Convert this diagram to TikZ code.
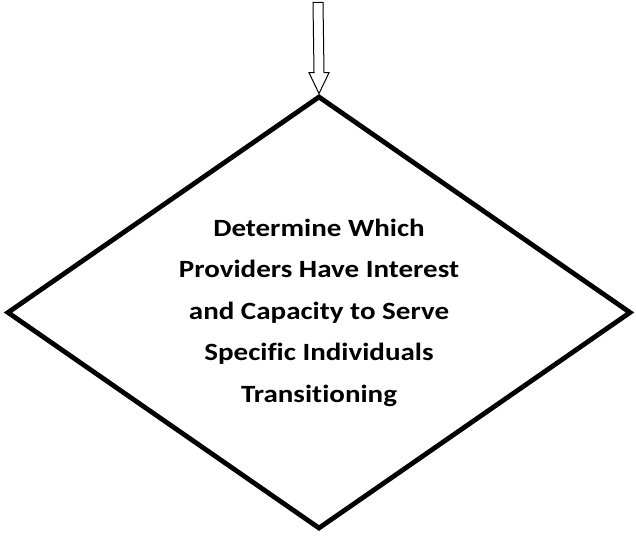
\documentclass[tikz,border=0pt]{standalone}
\usepackage{fontspec}
\setmainfont{Carlito}[FakeStretch=1.17,RawFeature={-liga}]
\usetikzlibrary{shapes.geometric,calc}

\begin{document}
\begin{tikzpicture}[x=1pt,y=-1pt,
    decision/.style={diamond,draw,line width=4.8pt,aspect=1.44,inner sep=0pt,
        minimum width=624pt,minimum height=433pt,align=center,
        font=\fontsize{24.8}{41.5}\selectfont\bfseries},
    blockarrow/.style={draw,fill=white,line width=1pt,line join=miter}]
            \def\shafthalf{5}
            \def\headhalf{10}
            \def\headlen{21}

            \useasboundingbox (0,0) rectangle (636,535);
            \node[decision] (decide) at (319,312.5) {Determine Which\\Providers Have Interest\\and Capacity to Serve\\Specific Individuals\\Transitioning};
            \coordinate (feed) at (318,2.5);

            \draw[blockarrow] (decide.north) -- ++(-\headhalf,-\headlen) -- ++(\headhalf-\shafthalf,0)
                -- ($(feed)+(-\shafthalf,0)$) -- ($(feed)+(\shafthalf,0)$)
                -- ($(decide.north)+(\shafthalf,-\headlen)$) -- ++(\headhalf-\shafthalf,0) -- cycle;
        \end{tikzpicture}
\end{document}
